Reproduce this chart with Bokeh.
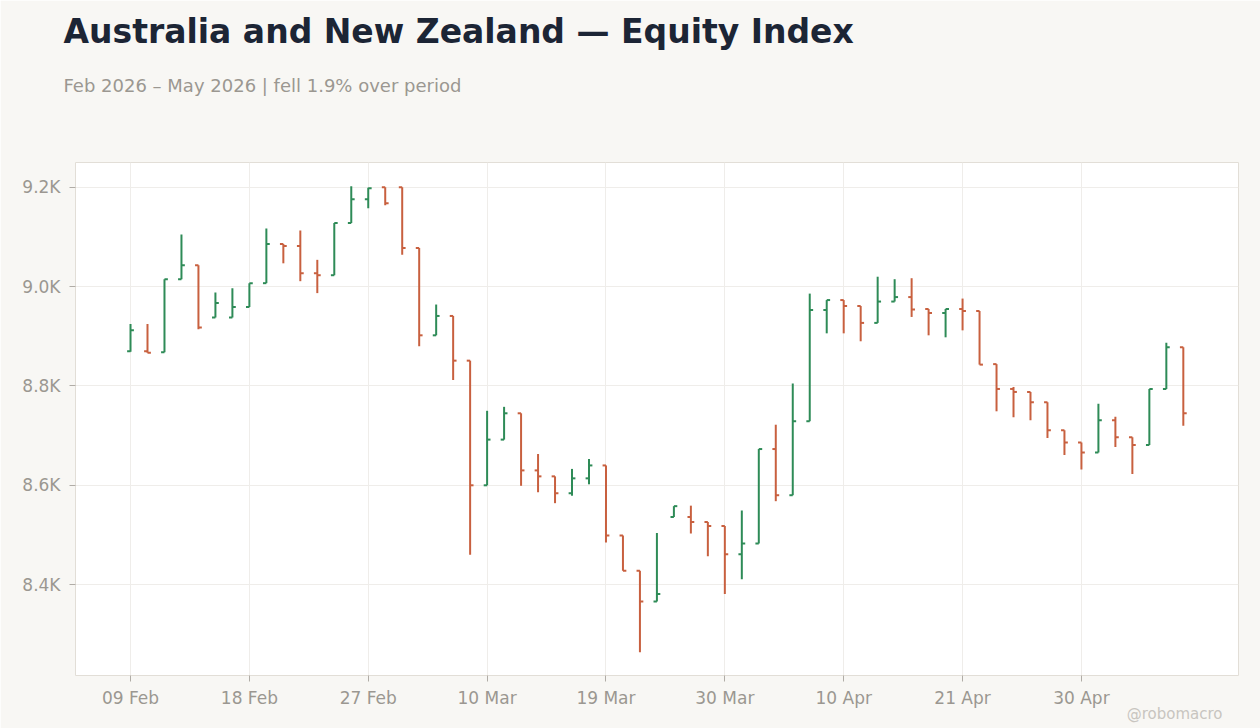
import pandas as pd
from bokeh.plotting import figure
from bokeh.models import Range1d, FixedTicker, ColumnDataSource, Title
from bokeh.embed import file_html
from bokeh.resources import INLINE

# ---- data ----
holidays = ["2026-04-03", "2026-04-06"]
dates = pd.bdate_range("2026-02-09", "2026-05-08").drop(pd.to_datetime(holidays))

open_ = [8870, 8870, 8868, 9015, 9043, 8938, 8938, 8959, 9007, 9086,
         9082, 9027, 9023, 9128, 9176, 9200, 9200, 9078, 8902, 8941,
         8851, 8600, 8692, 8745, 8630, 8618, 8584, 8614, 8640, 8499,
         8428, 8366, 8536, 8536, 8526, 8518, 8461, 8483, 8673, 8580,
         8729, 8953, 8973, 8961, 8927, 8970, 8979, 8955, 8947, 8955,
         8951, 8844, 8794, 8788, 8767, 8711, 8686, 8666, 8731, 8697,
         8681, 8794, 8878]
high = [8925, 8925, 9015, 9105, 9043, 8988, 8997, 9007, 9117, 9086,
        9113, 9054, 9128, 9202, 9199, 9200, 9200, 9078, 8964, 8941,
        8851, 8750, 8758, 8745, 8663, 8618, 8633, 8653, 8640, 8499,
        8428, 8504, 8558, 8559, 8526, 8518, 8549, 8673, 8722, 8805,
        8986, 8973, 8973, 8961, 9020, 9015, 9017, 8955, 8955, 8976,
        8951, 8844, 8798, 8788, 8767, 8711, 8686, 8764, 8738, 8697,
        8794, 8887, 8878]
low = [8869, 8867, 8868, 9015, 8914, 8938, 8938, 8959, 9007, 9047,
       9011, 8987, 9023, 9128, 9158, 9164, 9064, 8880, 8902, 8812,
       8460, 8600, 8692, 8599, 8586, 8564, 8579, 8602, 8485, 8428,
       8264, 8366, 8536, 8503, 8457, 8381, 8411, 8483, 8568, 8580,
       8729, 8906, 8906, 8890, 8927, 8970, 8939, 8902, 8898, 8912,
       8843, 8749, 8737, 8731, 8695, 8661, 8632, 8666, 8677, 8623,
       8681, 8794, 8720]
close = [8912, 8867, 9015, 9043, 8918, 8967, 8959, 9007, 9086, 9082,
         9027, 9023, 9128, 9176, 9198, 9168, 9078, 8902, 8941, 8851,
         8600, 8692, 8745, 8630, 8618, 8584, 8614, 8640, 8499, 8428,
         8366, 8381, 8558, 8526, 8518, 8461, 8483, 8673, 8580, 8729,
         8953, 8973, 8961, 8927, 8970, 8979, 8954, 8947, 8955, 8951,
         8843, 8794, 8788, 8767, 8711, 8686, 8666, 8731, 8697, 8681,
         8794, 8878, 8745]

y_ticks = [8400, 8600, 8800, 9000, 9200]
y_tick_labels = ["8.4K", "8.6K", "8.8K", "9.0K", "9.2K"]
x_tick_idx = [0, 7, 14, 21, 28, 35, 42, 49, 56]

title = "Australia and New Zealand \u2014 Equity Index"
subtitle = "Feb 2026 \u2013 May 2026 | fell 1.9% over period"
watermark = "@robomacro"

# ---- styling ----
UP = "#2E8B57"
DOWN = "#C8603F"
FONT = "DejaVu Sans"
TICK_C = "#9b9791"

n = len(open_)
xs = list(range(n))
colors = [UP if c >= o else DOWN for o, c in zip(open_, close)]
tw = 0.2
src = ColumnDataSource(dict(
    x=xs, xl=[x - tw for x in xs], xr=[x + tw for x in xs],
    o=open_, h=high, l=low, c=close, col=colors,
))

p = figure(width=1260, height=728, output_backend="svg", toolbar_location=None,
           title=None,
           x_range=Range1d(-3.24, 65.25), y_range=Range1d(8217, 9250),
           min_border_left=75, min_border_right=22, min_border_top=162,
           min_border_bottom=53)

p.background_fill_color = "#ffffff"
p.border_fill_color = "#f8f7f4"
p.outline_line_color = "#e2ded7"
p.outline_line_width = 1

p.segment(x0="x", y0="l", x1="x", y1="h", color="col", line_width=2, source=src)
p.segment(x0="xl", y0="o", x1="x", y1="o", color="col", line_width=2, source=src)
p.segment(x0="x", y0="c", x1="xr", y1="c", color="col", line_width=2, source=src)

# axes
p.xaxis.ticker = FixedTicker(ticks=x_tick_idx)
p.xaxis.major_label_overrides = {i: dates[i].strftime("%d %b") for i in x_tick_idx}
p.yaxis.ticker = FixedTicker(ticks=y_ticks)
p.yaxis.major_label_overrides = {v: t for v, t in zip(y_ticks, y_tick_labels)}

for ax in (p.xaxis, p.yaxis):
    ax.axis_line_color = None
    ax.major_tick_line_color = "#b0aca6"
    ax.major_tick_out = 6
    ax.major_tick_in = 0
    ax.minor_tick_line_color = None
    ax.major_label_text_font = FONT
    ax.major_label_text_font_size = "17px"
    ax.major_label_text_color = TICK_C
p.xaxis.major_label_standoff = 6
p.yaxis.major_label_standoff = 9

p.xgrid.ticker = FixedTicker(ticks=x_tick_idx)
p.ygrid.ticker = FixedTicker(ticks=y_ticks)
p.grid.grid_line_color = "#efedea"
p.grid.grid_line_width = 1

# titles (stacked upward from the frame) and watermark
p.add_layout(Title(text=" ", text_font=FONT, text_font_size="1px",
                   text_color="#f8f7f4", standoff=51), "above")
p.add_layout(Title(text=subtitle, text_font=FONT, text_font_size="18px",
                   text_font_style="normal", text_color="#9b9791",
                   align="left", offset=-12, standoff=26), "above")
p.add_layout(Title(text=title, text_font=FONT, text_font_size="33px",
                   text_font_style="bold", text_color="#1c2535",
                   align="left", offset=-12, standoff=18), "above")
p.add_layout(Title(text=watermark, text_font=FONT, text_font_size="15px",
                   text_font_style="normal", text_color="#c8c5c0",
                   align="right", vertical_align="bottom",
                   offset=16, standoff=-24), "below")

open("out.html", "w").write(file_html(p, INLINE))
